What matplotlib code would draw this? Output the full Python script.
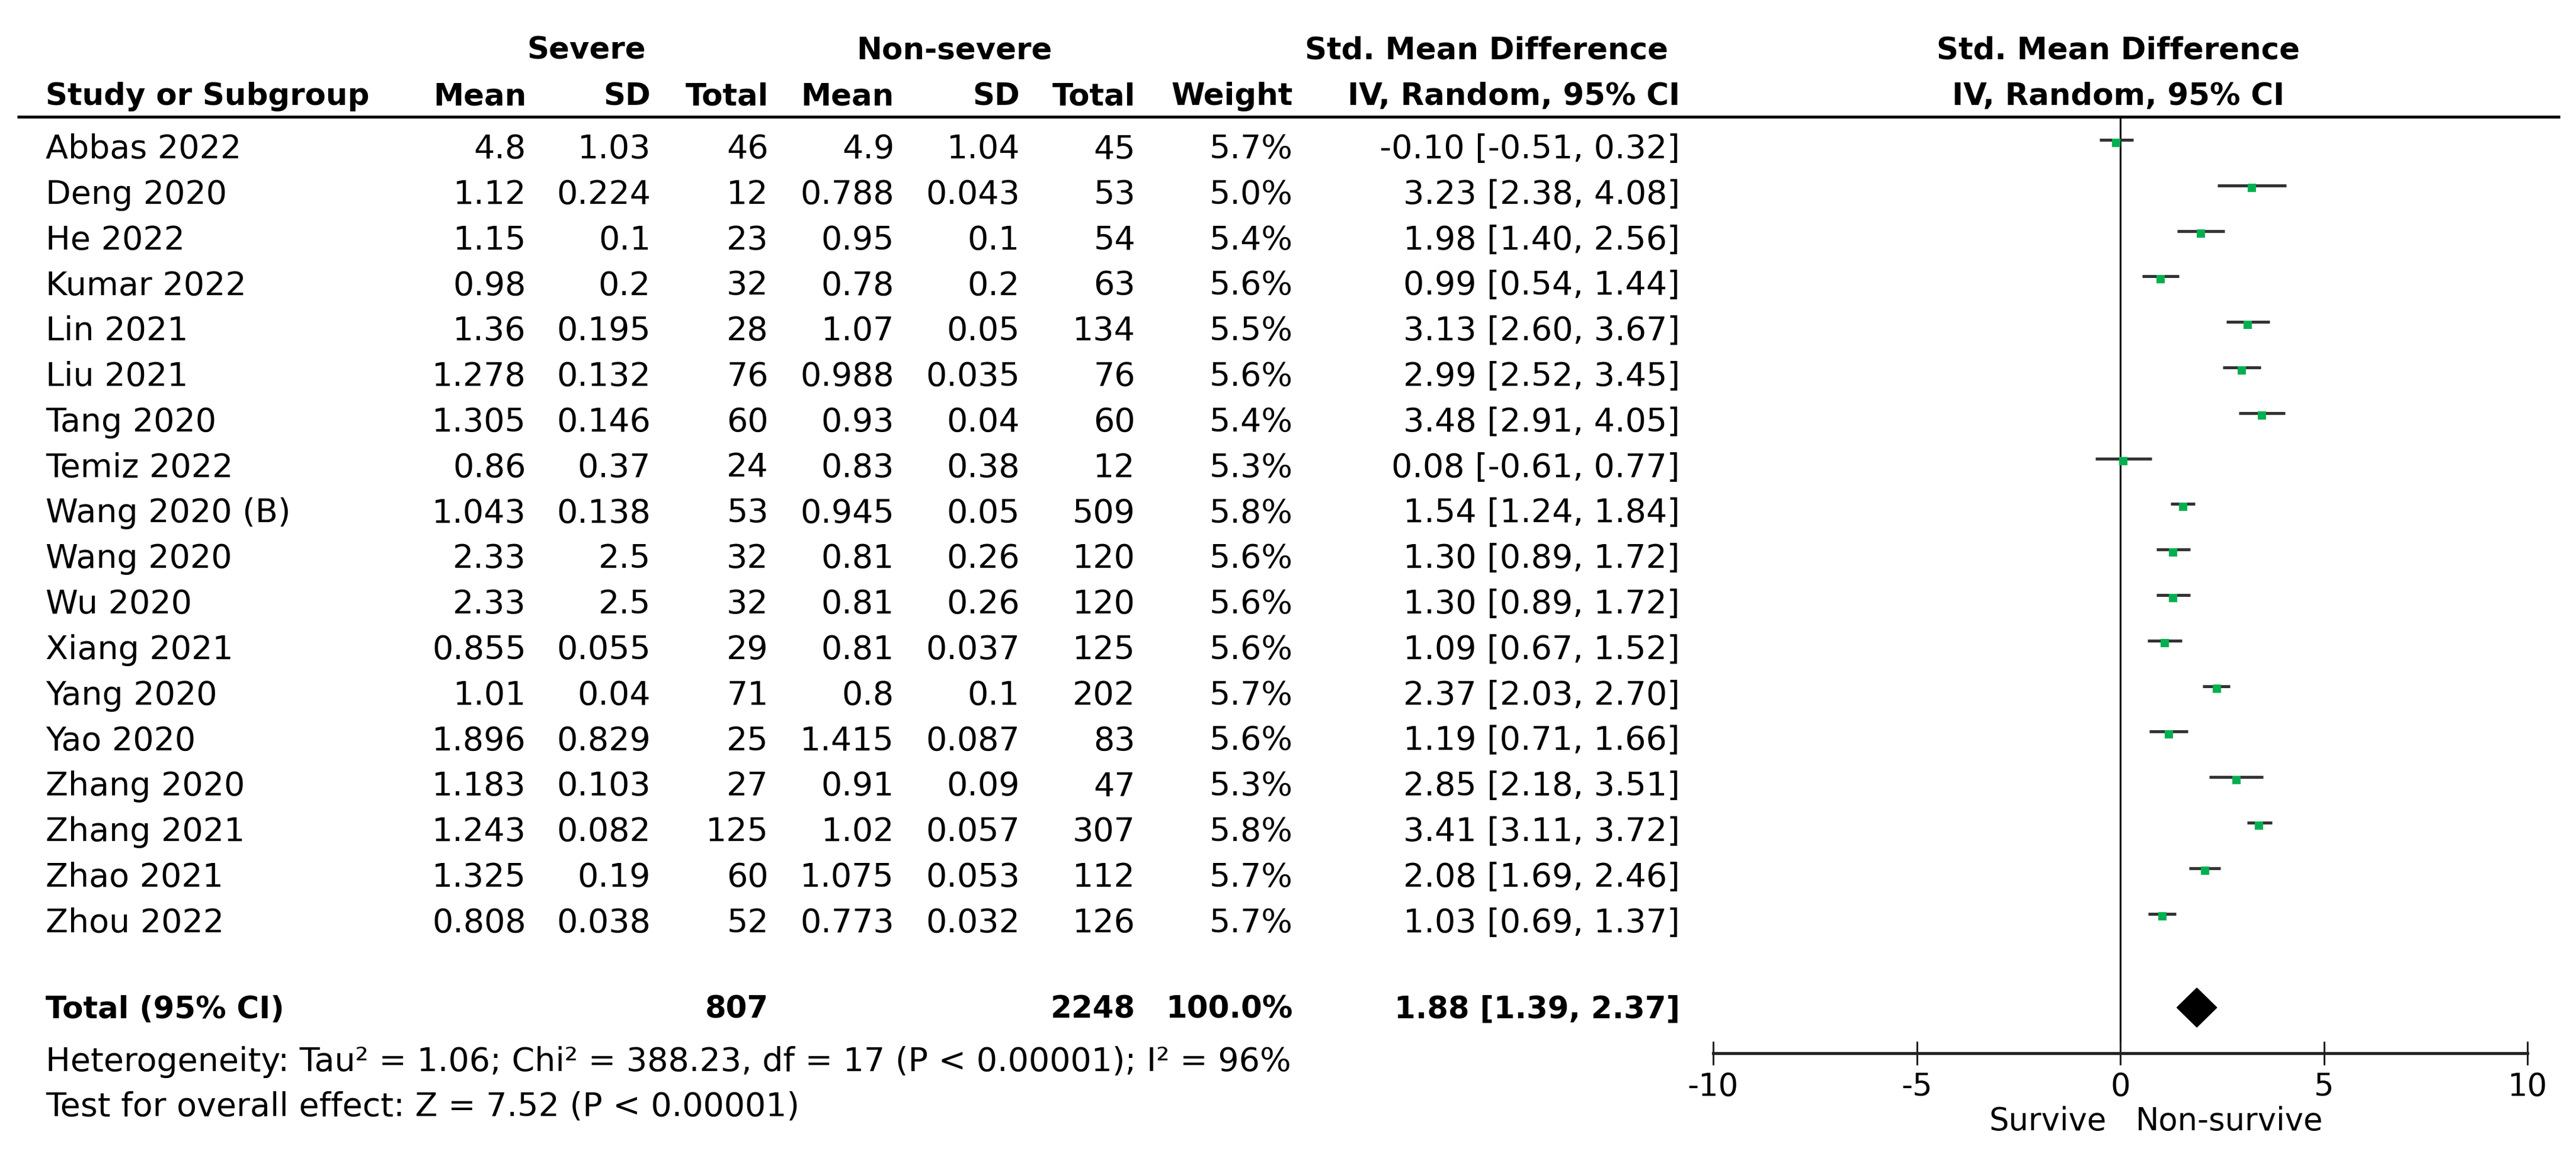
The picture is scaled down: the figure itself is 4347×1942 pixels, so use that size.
import numpy as np
import matplotlib
matplotlib.use("Agg")
import matplotlib.pyplot as plt

plt.rcParams['font.family'] = ['DejaVu Sans']
plt.rcParams['axes.unicode_minus'] = False

# ---- data ----
studies = ["Abbas 2022", "Deng 2020", "He 2022", "Kumar 2022", "Lin 2021", "Liu 2021",
           "Tang 2020", "Temiz 2022", "Wang 2020 (B)", "Wang 2020", "Wu 2020", "Xiang 2021",
           "Yang 2020", "Yao 2020", "Zhang 2020", "Zhang 2021", "Zhao 2021", "Zhou 2022"]
sev_mean = ["4.8", "1.12", "1.15", "0.98", "1.36", "1.278", "1.305", "0.86", "1.043", "2.33",
            "2.33", "0.855", "1.01", "1.896", "1.183", "1.243", "1.325", "0.808"]
sev_sd = ["1.03", "0.224", "0.1", "0.2", "0.195", "0.132", "0.146", "0.37", "0.138", "2.5",
          "2.5", "0.055", "0.04", "0.829", "0.103", "0.082", "0.19", "0.038"]
sev_n = [46, 12, 23, 32, 28, 76, 60, 24, 53, 32, 32, 29, 71, 25, 27, 125, 60, 52]
non_mean = ["4.9", "0.788", "0.95", "0.78", "1.07", "0.988", "0.93", "0.83", "0.945", "0.81",
            "0.81", "0.81", "0.8", "1.415", "0.91", "1.02", "1.075", "0.773"]
non_sd = ["1.04", "0.043", "0.1", "0.2", "0.05", "0.035", "0.04", "0.38", "0.05", "0.26",
          "0.26", "0.037", "0.1", "0.087", "0.09", "0.057", "0.053", "0.032"]
non_n = [45, 53, 54, 63, 134, 76, 60, 12, 509, 120, 120, 125, 202, 83, 47, 307, 112, 126]
weight = [5.7, 5.0, 5.4, 5.6, 5.5, 5.6, 5.4, 5.3, 5.8, 5.6, 5.6, 5.6, 5.7, 5.6, 5.3, 5.8, 5.7, 5.7]
smd = [-0.10, 3.23, 1.98, 0.99, 3.13, 2.99, 3.48, 0.08, 1.54, 1.30, 1.30, 1.09, 2.37, 1.19, 2.85, 3.41, 2.08, 1.03]
lo = [-0.51, 2.38, 1.40, 0.54, 2.60, 2.52, 2.91, -0.61, 1.24, 0.89, 0.89, 0.67, 2.03, 0.71, 2.18, 3.11, 1.69, 0.69]
hi = [0.32, 4.08, 2.56, 1.44, 3.67, 3.45, 4.05, 0.77, 1.84, 1.72, 1.72, 1.52, 2.70, 1.66, 3.51, 3.72, 2.46, 1.37]

total_sev = 807
total_non = 2248
total_weight = 100.0
total_smd, total_lo, total_hi = 1.88, 1.39, 2.37
xticks = [-10, -5, 0, 5, 10]
het_text = "Heterogeneity: Tau² = 1.06; Chi² = 388.23, df = 17 (P < 0.00001); I² = 96%"
test_text = "Test for overall effect: Z = 7.52 (P < 0.00001)"

# ---- layout (pixels) ----
W, H = 4347, 1942
fig = plt.figure(figsize=(W / 100, H / 100), dpi=100)
ax = fig.add_axes([0, 0, 1, 1])
ax.set_xlim(0, W)
ax.set_ylim(H, 0)
ax.axis('off')

fs = 40
fsb = 37
row0 = 267          # baseline of first study row
step = 76.8
x_name = 77
col_x = [888, 1098, 1297, 1509, 1721, 1916, 2182, 2835]

# headers
ax.text(990, 100, "Severe", ha='center', va='baseline', fontsize=fsb, fontweight='bold')
ax.text(1610, 100, "Non-severe", ha='center', va='baseline', fontsize=fsb, fontweight='bold')
ax.text(2815, 100, "Std. Mean Difference", ha='right', va='baseline', fontsize=fsb, fontweight='bold')
ax.text(3575, 100, "Std. Mean Difference", ha='center', va='baseline', fontsize=fsb, fontweight='bold')
ax.text(x_name, 177, "Study or Subgroup", ha='left', va='baseline', fontsize=fsb, fontweight='bold')
for x, lab in zip(col_x, ["Mean", "SD", "Total", "Mean", "SD", "Total", "Weight", "IV, Random, 95% CI"]):
    ax.text(x, 177, lab, ha='right', va='baseline', fontsize=fsb, fontweight='bold')
ax.text(3575, 177, "IV, Random, 95% CI", ha='center', va='baseline', fontsize=fsb, fontweight='bold')
ax.plot([29, 4320], [197, 197], color='black', lw=3.6, solid_capstyle='butt')

# study rows
for i, name in enumerate(studies):
    y = row0 + i * step
    ci = f"{smd[i]:.2f} [{lo[i]:.2f}, {hi[i]:.2f}]"
    vals = [sev_mean[i], sev_sd[i], str(sev_n[i]), non_mean[i], non_sd[i], str(non_n[i]),
            f"{weight[i]:.1f}%", ci]
    ax.text(x_name, y, name, ha='left', va='baseline', fontsize=fs)
    for x, v in zip(col_x, vals):
        ax.text(x, y, v, ha='right', va='baseline', fontsize=fs)

# total row
y_tot = 1718
ax.text(x_name, y_tot, "Total (95% CI)", ha='left', va='baseline', fontsize=fsb, fontweight='bold')
ax.text(col_x[2], y_tot, str(total_sev), ha='right', va='baseline', fontsize=fsb, fontweight='bold')
ax.text(col_x[5], y_tot, str(total_non), ha='right', va='baseline', fontsize=fsb, fontweight='bold')
ax.text(col_x[6], y_tot, f"{total_weight:.1f}%", ha='right', va='baseline',
        fontsize=fsb, fontweight='bold')
ax.text(col_x[7], y_tot, f"{total_smd:.2f} [{total_lo:.2f}, {total_hi:.2f}]", ha='right',
        va='baseline', fontsize=fsb, fontweight='bold')
ax.text(x_name, 1807, het_text, ha='left', va='baseline', fontsize=fs)
ax.text(x_name, 1883, test_text, ha='left', va='baseline', fontsize=fs)

# ---- forest plot axes ----
px_left, px_right = 2891, 4265
px_top, px_bot = 197, 1777
line0 = 236            # pixel y of first CI line
fax = fig.add_axes([px_left / W, 1 - px_bot / H, (px_right - px_left) / W, (px_bot - px_top) / H])
fax.set_xlim(-10, 10)
fax.set_ylim((px_bot - line0) / step, (px_top - line0) / step)
fax.patch.set_alpha(0)
for s in ['top', 'right', 'left']:
    fax.spines[s].set_visible(False)
fax.spines['bottom'].set_linewidth(3.6)
fax.spines['bottom'].set_color('#222222')
fax.set_yticks([])
fax.set_xticks(xticks)
fax.tick_params(axis='x', direction='inout', length=29, width=2.2, color='#222222',
                labelsize=fs - 2, pad=8)

fax.axvline(0, color='black', lw=2.2, zorder=1)

ys = np.arange(len(studies))
for i in range(len(studies)):
    fax.plot([lo[i], hi[i]], [ys[i], ys[i]], color='#333333', lw=3.6, solid_capstyle='butt', zorder=2)
fax.plot(smd, ys + 0.06, 's', color='#00b050', markersize=10, markeredgewidth=0, zorder=3)

y_dia = (1700 - line0) / step
h_dia = 33 / step
fax.fill([total_lo, total_smd, total_hi, total_smd],
         [y_dia, y_dia - h_dia, y_dia, y_dia + h_dia], color='black', zorder=3)

fig.text(3555 / W, 1 - 1892 / H, "Survive", ha='right', va='center', fontsize=fs - 2)
fig.text(3604 / W, 1 - 1892 / H, "Non-survive", ha='left', va='center', fontsize=fs - 2)

fig.savefig("out.png", dpi=100, facecolor='white')
